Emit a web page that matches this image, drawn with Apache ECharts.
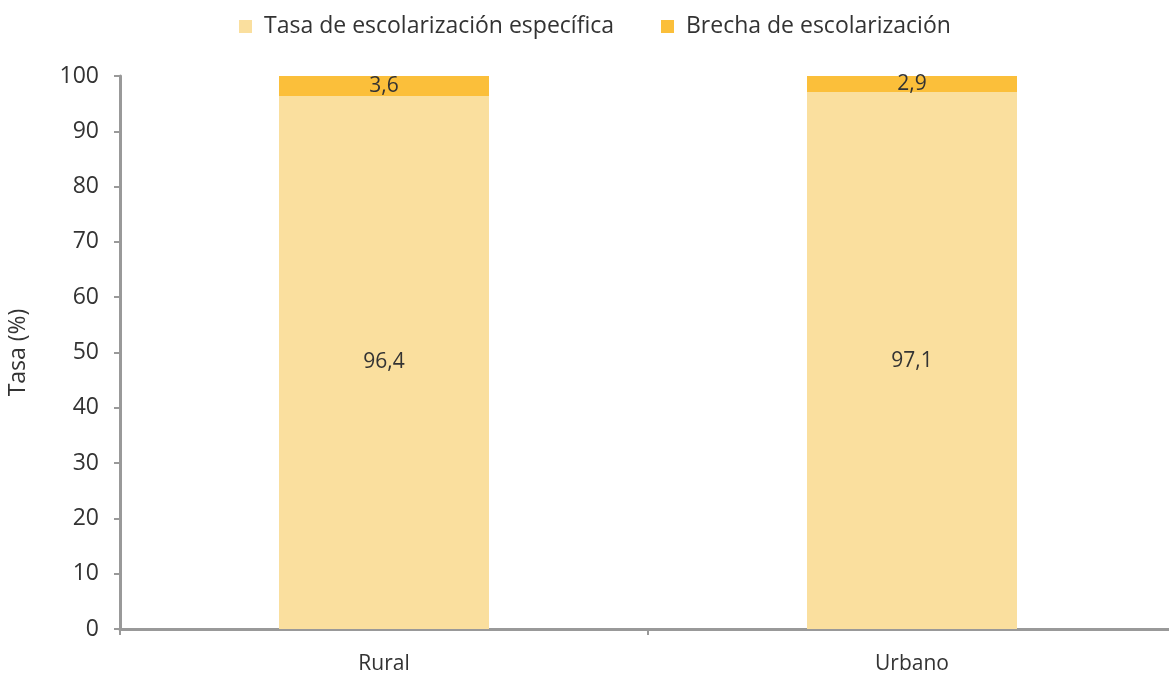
<!DOCTYPE html>
<html>
<head>
<meta charset="utf-8">
<script src="https://cdn.jsdelivr.net/npm/echarts@6/dist/echarts.min.js"></script>
<style>
  html, body { margin: 0; padding: 0; background: #fff; }
  #chart { width: 1169px; height: 678px; }
</style>
</head>
<body>
<div id="chart"></div>
<script>
const categories = ['Rural', 'Urbano'];
const tasaValues = [96.4, 97.1];
const brechaValues = [3.6, 2.9];
const seriesNames = ['Tasa de escolarización específica', 'Brecha de escolarización'];

const fontFamily = '"Open Sans", "Noto Sans", sans-serif';
const fmt = (p) => String(p.value).replace('.', ',');

const option = {
  animation: false,
  textStyle: { fontFamily: fontFamily, color: '#333' },
  legend: {
    top: 10,
    left: 234,
    itemWidth: 13,
    itemHeight: 13,
    itemGap: 47,
    icon: 'rect',
    textStyle: { fontSize: 23, color: '#333', fontFamily: fontFamily, padding: [0, 0, 0, 7] },
    data: seriesNames
  },
  grid: { left: 120, right: -7, top: 76, bottom: 49, outerBoundsMode: 'none' },
  xAxis: {
    type: 'category',
    data: categories,
    axisLine: { lineStyle: { color: '#999', width: 3 } },
    axisTick: { show: true, length: 6, lineStyle: { color: '#999', width: 2 } },
    axisLabel: { fontSize: 21, color: '#333', margin: 25 }
  },
  yAxis: {
    type: 'value',
    min: 0,
    max: 100,
    interval: 10,
    name: 'Tasa (%)',
    nameLocation: 'middle',
    nameGap: 90,
    nameTextStyle: { fontSize: 23, color: '#333' },
    axisLine: { show: true, lineStyle: { color: '#999', width: 3 } },
    axisTick: { show: true, length: 6, lineStyle: { color: '#999', width: 2 } },
    axisLabel: { fontSize: 23, color: '#333', margin: 21 },
    splitLine: { show: false }
  },
  series: [
    {
      name: seriesNames[0],
      type: 'bar',
      stack: 'total',
      barWidth: 210,
      data: tasaValues,
      itemStyle: { color: '#FADF9E' },
      label: { show: true, position: 'inside', fontSize: 21, color: '#333', formatter: fmt }
    },
    {
      name: seriesNames[1],
      type: 'bar',
      stack: 'total',
      barWidth: 210,
      data: brechaValues,
      itemStyle: { color: '#FBBF3A' },
      label: { show: true, position: 'inside', fontSize: 21, color: '#333', formatter: fmt }
    }
  ]
};

const chart = echarts.init(document.getElementById('chart'));
chart.setOption(option);
</script>
</body>
</html>
